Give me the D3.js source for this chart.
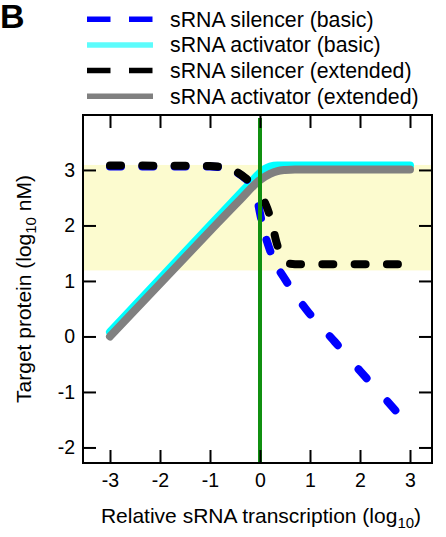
<!DOCTYPE html>
<html>
<head>
<meta charset="utf-8">
<script src="https://cdn.jsdelivr.net/npm/d3@7"></script>
<style>
  body { margin: 0; background: #fff; }
  text { font-family: "Liberation Sans", Arial, Helvetica, sans-serif; fill: #000; }
</style>
</head>
<body>
<svg id="chart" width="446" height="537"></svg>
<script>
// ---- data (x: log10 relative sRNA transcription, y: log10 target protein in nM) ----
const xTicks = [-3, -2, -1, 0, 1, 2, 3];
const yTicks = [-2, -1, 0, 1, 2, 3];

const seriesNames = [
  "sRNA silencer (basic)",
  "sRNA activator (basic)",
  "sRNA silencer (extended)",
  "sRNA activator (extended)"
];

// sRNA silencer, basic model
const xSilBasic = [-3, -1, -0.7, -0.5, -0.3, -0.15, -0.05, 0, 0.08, 0.17, 0.3, 0.48, 0.7, 0.93, 1.5, 2, 2.5, 3];
const ySilBasic = [3.06, 3.06, 3.03, 2.97, 2.85, 2.7, 2.45, 2.22, 1.9, 1.63, 1.33, 1.06, 0.76, 0.48, -0.1, -0.62, -1.12, -1.63];

// sRNA activator, basic model
const xActBasic = [-3, -1, -0.4, -0.2, 0, 0.1, 0.2, 0.35, 0.6, 1, 3];
const yActBasic = [0.08, 2.0, 2.57, 2.76, 2.95, 3.02, 3.06, 3.08, 3.08, 3.08, 3.08];

// sRNA silencer, extended model
const xSilExt = [-3, -1, -0.7, -0.5, -0.3, -0.1, 0.05, 0.15, 0.25, 0.32, 0.4, 0.5, 0.6, 0.8, 1, 3];
const ySilExt = [3.08, 3.07, 3.04, 2.98, 2.86, 2.7, 2.5, 2.3, 2.0, 1.73, 1.5, 1.36, 1.31, 1.3, 1.3, 1.3];

// sRNA activator, extended model
const xActExt = [-3, -1, -0.4, 0, 0.2, 0.35, 0.5, 0.7, 1, 3];
const yActExt = [0, 1.9, 2.46, 2.82, 2.93, 2.98, 3.0, 3.01, 3.01, 3.01];

// shaded range of target protein
const bandRange = [1.19, 3.09];
// reference transcription level
const referenceX = 0;

// ---- layout ----
const svg = d3.select("#chart");
const x = d3.scaleLinear().domain([-3.54, 3.44]).range([83, 432]);
const y = d3.scaleLinear().domain([-2.28, 3.99]).range([463, 115]);
const [x0, x1] = x.range();
const [yb, yt] = y.range();

const zip = (xs, ys) => xs.map((v, i) => [v, ys[i]]);
const line = d3.line().x(d => x(d[0])).y(d => y(d[1])).curve(d3.curveMonotoneX);

// shaded band
svg.append("rect")
  .attr("x", x0).attr("width", x1 - x0)
  .attr("y", y(bandRange[1])).attr("height", y(bandRange[0]) - y(bandRange[1]))
  .attr("fill", "#fcfbcf");

// dash patterns: regular on the plateau, spacing opens up along the descent
const plateauDash = [];
for (let i = 0; i < 4; i++) plateauDash.push(11, 21.3);
const blueDash = plateauDash.concat([11, 29.4, 12, 22.6, 12, 23.8, 12, 27.3, 12, 29.3, 12, 31.8, 12, 31.2, 12, 200]);
const blackDash = plateauDash.concat([11, 29.8, 11, 22.8, 11, 23.2]);
for (let i = 0; i < 6; i++) blackDash.push(11, 21.3);
blackDash.push(11, 200);

const series = [
  { xs: xActBasic, ys: yActBasic, color: "#00ffff", dash: null },
  { xs: xActExt,   ys: yActExt,   color: "#808080", dash: null },
  { xs: xSilBasic, ys: ySilBasic, color: "#0000ff", dash: blueDash.join(",") },
  { xs: xSilExt,   ys: ySilExt,   color: "#000000", dash: blackDash.join(",") }
];

svg.append("g").selectAll("path")
  .data(series)
  .join("path")
  .attr("d", d => line(zip(d.xs, d.ys)))
  .attr("fill", "none")
  .attr("stroke", d => d.color)
  .attr("stroke-width", 8)
  .attr("stroke-linecap", "round")
  .attr("stroke-linejoin", "round")
  .attr("stroke-dasharray", d => d.dash);

// vertical reference line
svg.append("line")
  .attr("x1", x(referenceX)).attr("x2", x(referenceX))
  .attr("y1", yt + 3).attr("y2", yb)
  .attr("stroke", "#109010").attr("stroke-width", 4);

// ---- axes (ticks point inward on all four sides) ----
const fmt = d => String(d);
const styleAxis = g => {
  g.selectAll(".domain").remove();
  g.selectAll(".tick line").attr("stroke", "#000").attr("stroke-width", 2);
  g.selectAll(".tick text").attr("font-size", 19.5).attr("fill", "#000")
    .attr("font-family", "Liberation Sans, Arial, sans-serif");
};

svg.append("g").attr("transform", `translate(0,${yb})`)
  .call(d3.axisBottom(x).tickValues(xTicks).tickFormat(fmt).tickSize(-13).tickPadding(10))
  .call(styleAxis);
svg.append("g").attr("transform", `translate(0,${yt})`)
  .call(d3.axisTop(x).tickValues(xTicks).tickFormat("").tickSize(-13))
  .call(styleAxis);
svg.append("g").attr("transform", `translate(${x0},0)`)
  .call(d3.axisLeft(y).tickValues(yTicks).tickFormat(fmt).tickSize(-13).tickPadding(8))
  .call(styleAxis);
svg.append("g").attr("transform", `translate(${x1},0)`)
  .call(d3.axisRight(y).tickValues(yTicks).tickFormat("").tickSize(-13))
  .call(styleAxis);

// frame
svg.append("rect")
  .attr("x", x0).attr("y", yt).attr("width", x1 - x0).attr("height", yb - yt)
  .attr("fill", "none").attr("stroke", "#000").attr("stroke-width", 2);

// axis titles
const xt = svg.append("text")
  .attr("x", 261).attr("y", 523)
  .attr("text-anchor", "middle").attr("font-size", 21);
xt.append("tspan").text("Relative sRNA transcription (log");
xt.append("tspan").attr("font-size", 15).attr("dy", 5).text("10");
xt.append("tspan").attr("dy", -5).text(")");

const yl = svg.append("text")
  .attr("transform", `translate(31,${(yt + yb) / 2}) rotate(-90)`)
  .attr("text-anchor", "middle").attr("font-size", 21);
yl.append("tspan").text("Target protein (log");
yl.append("tspan").attr("font-size", 15).attr("dy", 5).text("10");
yl.append("tspan").attr("dy", -5).text(" nM)");

// panel letter
svg.append("text")
  .attr("x", 0).attr("y", 28)
  .attr("font-size", 34).attr("font-weight", "bold")
  .text("B");

// ---- legend ----
const legendColors = ["#0000ff", "#5cfcfc", "#000000", "#808080"];
const legendDash = ["23.5,18.5", null, "23.5,18.5", null];
const lg = svg.append("g").selectAll("g")
  .data(seriesNames)
  .join("g")
  .attr("transform", (d, i) => `translate(0,${19.2 + i * 25.7})`);
lg.append("line")
  .attr("x1", 87).attr("x2", 153)
  .attr("stroke", (d, i) => legendColors[i])
  .attr("stroke-width", 5.5)
  .attr("stroke-dasharray", (d, i) => legendDash[i]);
lg.append("text")
  .attr("x", 170).attr("y", 7.5)
  .attr("font-size", 21.3)
  .text(d => d);
</script>
</body>
</html>
